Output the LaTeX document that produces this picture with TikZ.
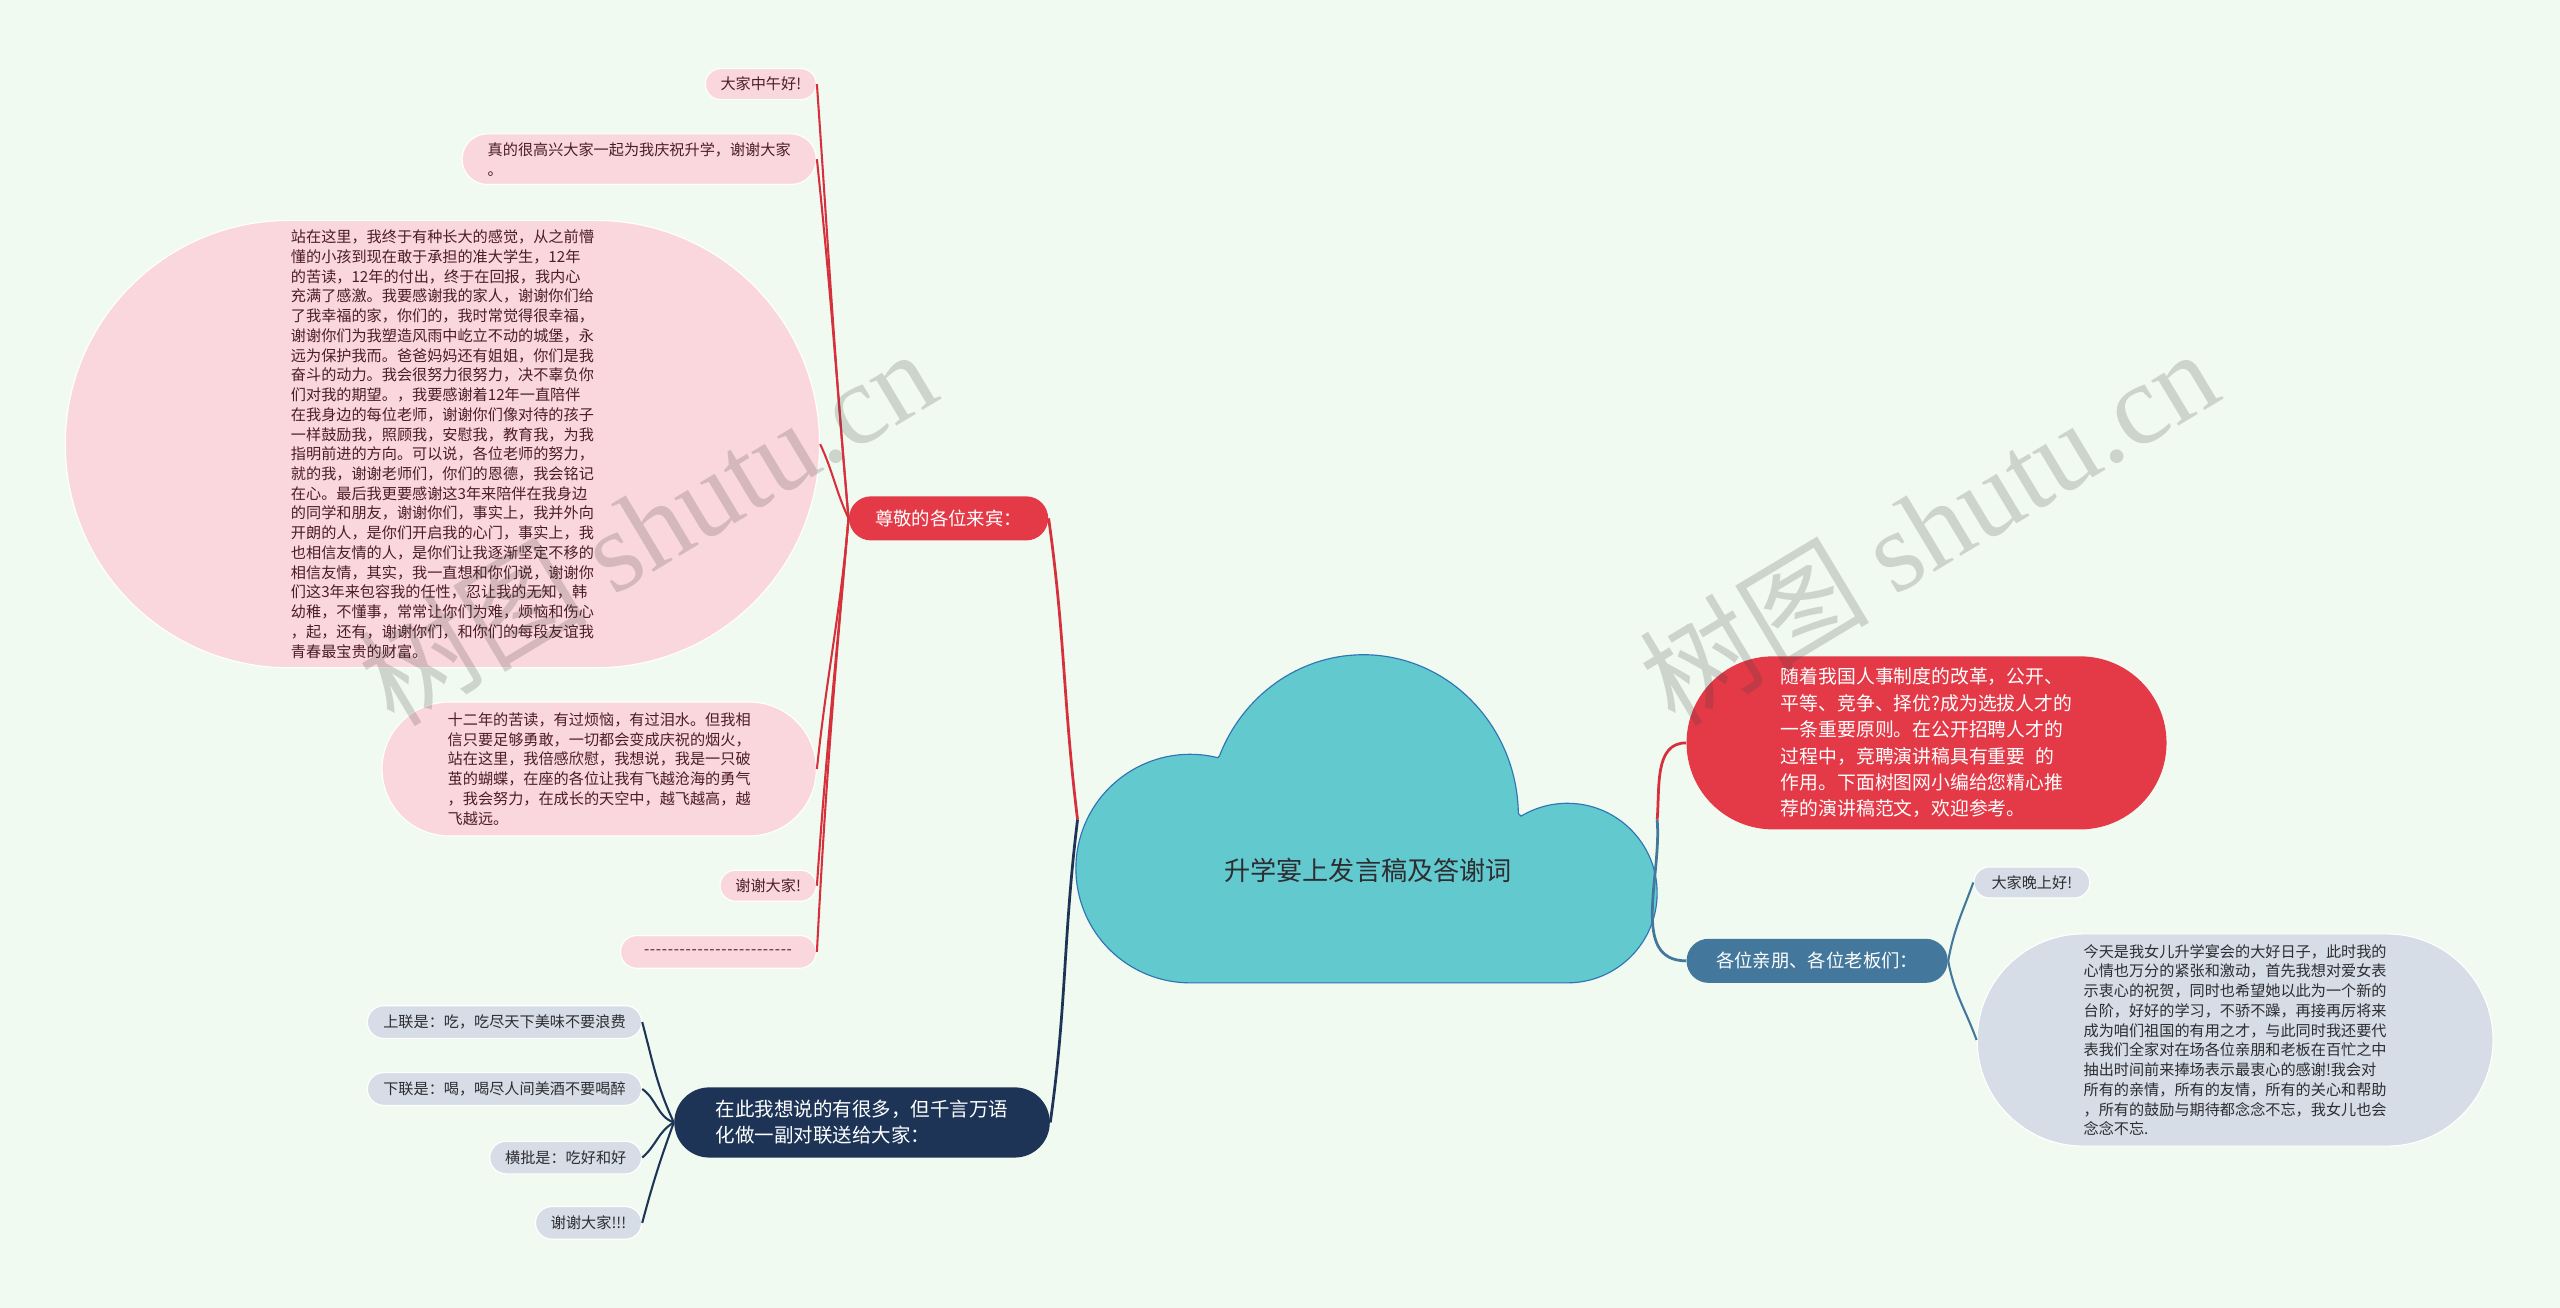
\documentclass[tikz,border=0pt]{standalone}
\usepackage{fontspec}
\setmainfont{Noto Sans CJK SC}
\newfontfamily\markfont{Liberation Serif}
\usetikzlibrary{shapes.misc}

\definecolor{bgmint}{RGB}{240,250,240}
\definecolor{cloudfill}{RGB}{98,202,206}
\definecolor{cloudline}{RGB}{47,116,181}
\definecolor{brred}{RGB}{228,58,72}
\definecolor{linkred}{RGB}{214,48,60}
\definecolor{brnavy}{RGB}{29,52,87}
\definecolor{brsteel}{RGB}{67,120,156}
\definecolor{leafpink}{RGB}{250,215,221}
\definecolor{leafgray}{RGB}{214,221,230}
\definecolor{pinktext}{RGB}{75,30,35}
\definecolor{graytext}{RGB}{45,45,50}
\definecolor{markgray}{RGB}{60,60,60}

\tikzset{
  pill/.style={rounded rectangle, inner xsep=0pt, inner ysep=0pt, align=left},
  mainbox/.style={pill, text=white, font=\fontsize{8}{11.3}\selectfont},
  leafbox/.style={pill, draw=white, line width=0.5pt, font=\fontsize{6.6}{8.6}\selectfont},
  pinkleaf/.style={leafbox, fill=leafpink, text=pinktext},
  grayleaf/.style={leafbox, fill=leafgray, text=graytext},
  link/.style={line width=1.2pt},
  twig/.style={line width=0.9pt},
  watermark/.style={text=markgray, text opacity=0.2, font=\fontsize{50}{50}\selectfont, rotate=31},
}

\begin{document}
\begin{tikzpicture}
    % Background
    \fill[bgmint] (0,0) rectangle (39.2,-20.025);

    % Central topic
    \filldraw[fill=cloudfill, draw=cloudline, line width=0.5pt]
      (18.225,-15.05) -- (24.0,-15.05) arc[start angle=-90, end angle=121, radius=1.375]
      -- (23.25,-12.457) arc[start angle=1, end angle=158, x radius=2.375, y radius=2.475]
      -- (18.648,-11.602) arc[start angle=76, end angle=270, radius=1.75] -- cycle;
    \node[text=graytext, font=\fontsize{11.4}{14}\selectfont] (root) at (20.95,-13.325) {升学宴上发言稿及答谢词};
    \coordinate (rootL) at (16.5,-12.55);
    \coordinate (rootR) at (25.375,-12.55);

    % Main branches
    \node[mainbox, fill=brred, minimum width=3.05cm, minimum height=0.675cm] (guests) at (14.525,-7.9375) {尊敬的各位来宾：};
    \node[mainbox, fill=brnavy, minimum width=5.75cm, minimum height=1.075cm, font=\fontsize{8.5}{11.3}\selectfont] (couplet) at (13.2,-17.1875) {在此我想说的有很多，但千言万语\\化做一副对联送给大家：};
    \node[mainbox, fill=brred, minimum width=7.35cm, minimum height=2.65cm, font=\fontsize{8.2}{11.5}\selectfont] (intro) at (29.5,-11.375) {随着我国人事制度的改革，公开、\\平等、竞争、择优?成为选拔人才的\\一条重要原则。在公开招聘人才的\\过程中，竞聘演讲稿具有重要\hspace{0.5em}的\\作用。下面树图网小编给您精心推\\荐的演讲稿范文，欢迎参考。};
    \node[mainbox, fill=brsteel, minimum width=4.0cm, minimum height=0.675cm] (family) at (27.825,-14.7125) {各位亲朋、各位老板们：};

    % Leaves of the guests branch
    \node[pinkleaf, minimum width=1.7cm, minimum height=0.475cm] (hello) at (11.65,-1.2875) {大家中午好!};
    \node[pinkleaf, minimum width=5.425cm, minimum height=0.775cm] (happy) at (9.7875,-2.4375) {真的很高兴大家一起为我庆祝升学，谢谢大家\\。};
    \node[pinkleaf, minimum width=11.55cm, minimum height=6.85cm] (speech) at (6.775,-6.8) {站在这里，我终于有种长大的感觉，从之前懵\\懂的小孩到现在敢于承担的准大学生，12年\\的苦读，12年的付出，终于在回报，我内心\\充满了感激。我要感谢我的家人，谢谢你们给\\了我幸福的家，你们的，我时常觉得很幸福，\\谢谢你们为我塑造风雨中屹立不动的城堡，永\\远为保护我而。爸爸妈妈还有姐姐，你们是我\\奋斗的动力。我会很努力很努力，决不辜负你\\们对我的期望。，我要感谢着12年一直陪伴\\在我身边的每位老师，谢谢你们像对待的孩子\\一样鼓励我，照顾我，安慰我，教育我，为我\\指明前进的方向。可以说，各位老师的努力，\\就的我，谢谢老师们，你们的恩德，我会铭记\\在心。最后我更要感谢这3年来陪伴在我身边\\的同学和朋友，谢谢你们，事实上，我并外向\\开朗的人，是你们开启我的心门，事实上，我\\也相信友情的人，是你们让我逐渐坚定不移的\\相信友情，其实，我一直想和你们说，谢谢你\\们这3年来包容我的任性，忍让我的无知，韩\\幼稚，不懂事，常常让你们为难，烦恼和伤心\\，起，还有，谢谢你们，和你们的每段友谊我\\青春最宝贵的财富。};
    \node[pinkleaf, minimum width=6.65cm, minimum height=2.05cm] (tears) at (9.175,-11.775) {十二年的苦读，有过烦恼，有过泪水。但我相\\信只要足够勇敢，一切都会变成庆祝的烟火，\\站在这里，我倍感欣慰，我想说，我是一只破\\茧的蝴蝶，在座的各位让我有飞越沧海的勇气\\，我会努力，在成长的天空中，越飞越高，越\\飞越远。};
    \node[pinkleaf, minimum width=1.475cm, minimum height=0.475cm] (thanks) at (11.7625,-13.5625) {谢谢大家!};
    \node[pinkleaf, minimum width=3.0cm, minimum height=0.5cm] (dashes) at (11.0,-14.575) {\foreach \k in {1,...,25}{-\kern0.3pt}};

    % Leaves of the couplet branch
    \node[grayleaf, minimum width=4.2cm, minimum height=0.5cm] (upper) at (7.725,-15.65) {上联是：吃，吃尽天下美味不要浪费};
    \node[grayleaf, minimum width=4.2cm, minimum height=0.5cm] (lower) at (7.725,-16.675) {下联是：喝，喝尽人间美酒不要喝醉};
    \node[grayleaf, minimum width=2.325cm, minimum height=0.5cm] (banner) at (8.6625,-17.725) {横批是：吃好和好};
    \node[grayleaf, minimum width=1.625cm, minimum height=0.5cm] (cheers) at (9.0125,-18.725) {谢谢大家!!!};

    % Leaves of the family branch
    \node[grayleaf, minimum width=1.775cm, minimum height=0.475cm] (greet) at (31.1125,-13.5125) {大家晚上好!};
    \node[grayleaf, minimum width=7.9cm, minimum height=3.25cm] (toast) at (34.225,-15.925) {今天是我女儿升学宴会的大好日子，此时我的\\心情也万分的紧张和激动，首先我想对爱女表\\示衷心的祝贺，同时也希望她以此为一个新的\\台阶，好好的学习，不骄不躁，再接再厉将来\\成为咱们祖国的有用之才，与此同时我还要代\\表我们全家对在场各位亲朋和老板在百忙之中\\抽出时间前来捧场表示最衷心的感谢!我会对\\所有的亲情，所有的友情，所有的关心和帮助\\，所有的鼓励与期待都念念不忘，我女儿也会\\念念不忘.};

    % Connectors from the topic
    \draw[link, linkred] (rootL) to[out=97, in=-82] (guests.east);
    \draw[link, brnavy] (rootL) to[out=-97, in=82] (couplet.east);
    \draw[link, linkred] (rootR) to[out=85, in=180] (intro.west);
    \draw[link, brsteel] (rootR) to[out=-85, in=180] (family.west);

    % Connectors to the leaves
    \draw[twig, linkred] (guests.west) to[out=95, in=-86] (hello.east);
    \draw[twig, linkred] (guests.west) to[out=95, in=-84] (happy.east);
    \draw[twig, linkred] (guests.west) to[out=115, in=-65] (speech.east);
    \draw[twig, linkred] (guests.west) to[out=-95, in=84] (tears.east);
    \draw[twig, linkred] (guests.west) to[out=-95, in=86] (thanks.east);
    \draw[twig, linkred] (guests.west) to[out=-95, in=87] (dashes.east);

    \draw[twig, brnavy] (couplet.west) to[out=115, in=-75] (upper.east);
    \draw[twig, brnavy] (couplet.west) to[out=160, in=-35] (lower.east);
    \draw[twig, brnavy] (couplet.west) to[out=-150, in=40] (banner.east);
    \draw[twig, brnavy] (couplet.west) to[out=-110, in=75] (cheers.east);

    \draw[twig, brsteel] (family.east) to[out=80, in=-110] (greet.west);
    \draw[twig, brsteel] (family.east) to[out=-80, in=110] (toast.west);

    % Watermarks
    \node[watermark] (markL) at (9.9,-8.05) {树图 {\markfont shutu.cn}};
    \node[watermark] (markR) at (29.525,-8.05) {树图 {\markfont shutu.cn}};
\end{tikzpicture}
\end{document}
